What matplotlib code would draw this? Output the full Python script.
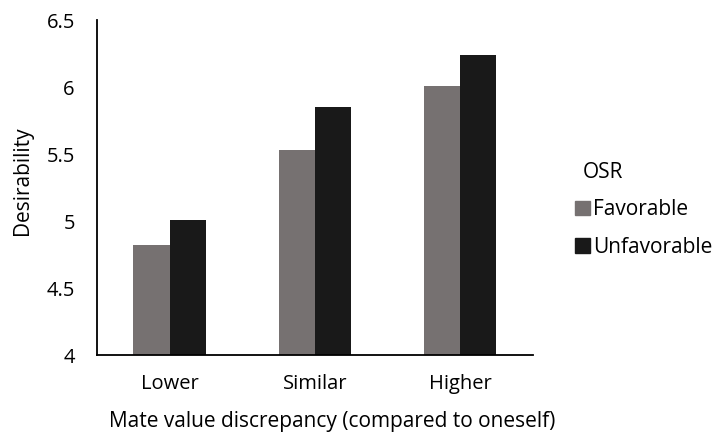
import numpy as np
import matplotlib.pyplot as plt
from matplotlib.patches import Patch

plt.rcParams['font.family'] = ['Open Sans', 'DejaVu Sans']

categories = ['Lower', 'Similar', 'Higher']
favorable = [4.82, 5.53, 6.01]
unfavorable = [5.01, 5.85, 6.24]
series_names = ['Favorable', 'Unfavorable']
colors = ['#767171', '#191919']
tick_fs = 14.5
label_fs = 15

fig = plt.figure(figsize=(7.16, 4.37), dpi=100)
ax = fig.add_axes([0.1355, 0.1876, 0.6085, 0.7666])

x = np.arange(len(categories))
w = 0.25
ax.bar(x - w / 2, favorable, w, color=colors[0])
ax.bar(x + w / 2, unfavorable, w, color=colors[1])

ax.set_xlim(-0.5, 2.5)
ax.set_ylim(4, 6.5)
ax.set_yticks([4, 4.5, 5, 5.5, 6, 6.5])
ax.set_yticklabels(['4', '4.5', '5', '5.5', '6', '6.5'])
ax.set_xticks(x)
ax.set_xticklabels(categories)
ax.tick_params(axis='y', length=0, pad=16, labelsize=tick_fs)
ax.tick_params(axis='x', length=0, pad=14, labelsize=tick_fs)

for side in ['top', 'right']:
    ax.spines[side].set_visible(False)
for side in ['left', 'bottom']:
    ax.spines[side].set_linewidth(1.3)
    ax.spines[side].set_color('#000000')

ax.set_ylabel('Desirability', fontsize=label_fs)
ax.yaxis.set_label_coords(-0.147, 0.519)
ax.set_xlabel('Mate value discrepancy (compared to oneself)', fontsize=label_fs)
ax.xaxis.set_label_coords(0.539, -0.166)

handles = [Patch(color=c) for c in colors]
leg = fig.legend(handles, series_names, title='OSR', loc='center left',
                 bbox_to_anchor=(0.777, 0.52), frameon=False, fontsize=label_fs,
                 title_fontsize=label_fs, handlelength=0.7, handleheight=0.7,
                 handletextpad=0.15, labelspacing=0.8)
leg._legend_box.align = 'left'
leg.get_title().set_position((8, 0))

fig.savefig('out.png', dpi=100)
